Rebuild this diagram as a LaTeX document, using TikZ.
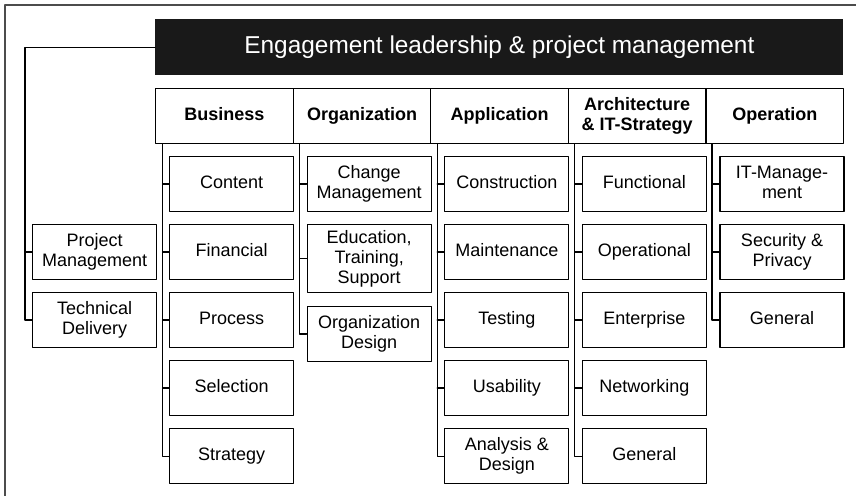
\documentclass[tikz,border=0pt]{standalone}
\usepackage{fontspec}
\setmainfont{Liberation Sans}
\tikzset{
  box/.style={draw, line width=0.6pt, anchor=north west, align=center, inner sep=1pt,
    minimum width=124*0.5pt, minimum height=55*0.5pt, font=\fontsize{9}{10}\selectfont,
    execute at begin node=\vphantom{Ag}, execute at end node=\vphantom{g}},
  head/.style={box, minimum width=137.6*0.5pt, font=\fontsize{9}{10}\selectfont\bfseries},
  tick/.style={line width=0.6pt}
}
\begin{document}
\begin{tikzpicture}[x=0.5pt, y=-0.5pt, line join=round, line cap=round]
\useasboundingbox (0,0) rectangle (856,496);
\def\cw{137.6} % Spaltenbreite
\draw[gray!60!black, line width=0.8pt] (856,5) -- (5,5) -- (5,496);
\node[fill=black!90, text=white, anchor=north west, minimum width=688*0.5pt,
  minimum height=56*0.5pt, font=\fontsize{12.2}{14}\selectfont] (eng) at (155,19)
  {Engagement leadership \& project management};
% Kopfzeile
\node[head] (bus) at (155,88) {Business};
\node[head] (org) at (155+\cw,88) {Organization};
\node[head] (app) at (155+2*\cw,88) {Application};
\node[head] (arc) at (155+3*\cw,88) {Architecture\\\& IT-Strategy};
\node[head] (ope) at (155+4*\cw,88) {Operation};
% Business
\node[box] (bus1) at (169,156) {Content};
\node[box] (bus2) at (169,224) {Financial};
\node[box] (bus3) at (169,292) {Process};
\node[box] (bus4) at (169,360) {Selection};
\node[box] (bus5) at (169,428) {Strategy};
% Organization
\node[box] (org1) at (169+\cw,156) {Change\\Management};
\node[box, minimum height=68*0.5pt] (org2) at (169+\cw,224) {Education,\\Training,\\Support};
\node[box] (org3) at (169+\cw,306) {Organization\\Design};
% Application
\node[box] (app1) at (169+2*\cw,156) {Construction};
\node[box] (app2) at (169+2*\cw,224) {Maintenance};
\node[box] (app3) at (169+2*\cw,292) {Testing};
\node[box] (app4) at (169+2*\cw,360) {Usability};
\node[box] (app5) at (169+2*\cw,428) {Analysis \&\\Design};
% Architecture
\node[box] (arc1) at (169+3*\cw,156) {Functional};
\node[box] (arc2) at (169+3*\cw,224) {Operational};
\node[box] (arc3) at (169+3*\cw,292) {Enterprise};
\node[box] (arc4) at (169+3*\cw,360) {Networking};
\node[box] (arc5) at (169+3*\cw,428) {General};
% Operation
\node[box] (ope1) at (169+4*\cw,156) {IT-Manage-\\ment};
\node[box] (ope2) at (169+4*\cw,224) {Security \&\\Privacy};
\node[box] (ope3) at (169+4*\cw,292) {General};
% Links
\node[box] (pm) at (32,224) {Project\\Management};
\node[box] (td) at (32,292) {Technical\\Delivery};
% Verbindungen
\coordinate (busS) at ([xshift=7.5*0.5pt]bus.south west);
\coordinate (orgS) at ([xshift=7*0.5pt]org.south west);
\coordinate (appS) at ([xshift=7*0.5pt]app.south west);
\coordinate (arcS) at ([xshift=7*0.5pt]arc.south west);
\coordinate (opeS) at ([xshift=6.5*0.5pt]ope.south west);
\coordinate (engS) at (25,0);
\draw[tick] (eng.west) -| (engS |- td.west) -- (td.west);
\draw[tick] (pm.west) -- (pm.west -| engS);
\draw[tick] (busS) |- (bus5.west);
\draw[tick] (orgS) |- (org3.west);
\draw[tick] (appS) |- (app5.west);
\draw[tick] (arcS) |- (arc5.west);
\draw[tick] (opeS) |- (ope3.west);
\foreach \c/\n in {bus/4, org/2, app/4, arc/4, ope/2}
  \foreach \i in {1,...,\n}
    \draw[tick] (\c\i.west) -- (\c\i.west -| \c S);
\end{tikzpicture}
\end{document}
